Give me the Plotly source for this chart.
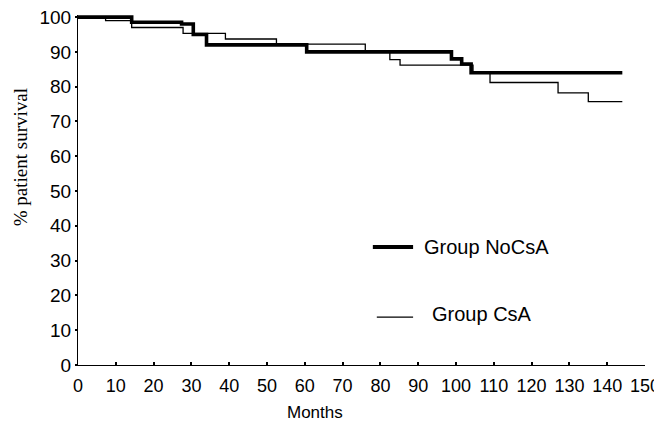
import plotly.graph_objects as go

# Kaplan-Meier style survival steps (months, % survival)
nocsa_months = [0, 14.2, 27.4, 30.5, 34, 60.5, 98.8, 101.5, 104, 144]
nocsa_surv = [100, 98.5, 98, 95, 92, 90, 88, 86.5, 84, 84]

csa_months = [0, 7.3, 14.2, 27.8, 39, 52.5, 76, 82.5, 85.2, 104.5, 109, 127, 135, 144]
csa_surv = [100, 99, 97, 95.3, 93.7, 92.2, 90, 87.8, 86.2, 83.8, 81.2, 78.2, 75.7, 75.7]

x_ticks = list(range(0, 151, 10))
y_ticks = list(range(0, 101, 10))

series_names = ["Group NoCsA", "Group CsA"]

fig = go.Figure()
fig.add_trace(go.Scatter(x=csa_months, y=csa_surv, mode="lines", line_shape="hv",
                         line=dict(color="black", width=1.3), name=series_names[1]))
fig.add_trace(go.Scatter(x=nocsa_months, y=nocsa_surv, mode="lines", line_shape="hv",
                         line=dict(color="black", width=3.6), name=series_names[0]))

tickfont = dict(family="Liberation Sans, Arial, sans-serif", size=18, color="black")

fig.update_layout(
    width=654, height=414,
    margin=dict(l=70, r=17, t=7, b=57),
    paper_bgcolor="white", plot_bgcolor="white",
    showlegend=False,
    xaxis=dict(range=[0, 150], tickvals=x_ticks, ticktext=[str(v) for v in x_ticks],
               showgrid=False, zeroline=False, showline=True, linecolor="black", linewidth=1.2,
               ticks="inside", ticklen=3, tickwidth=2, tickcolor="black",
               tickfont=tickfont, ticklabelstandoff=4, automargin=False,
               ticklabeloverflow="allow"),
    yaxis=dict(range=[0, 100.6], tickvals=y_ticks, ticktext=[str(v) for v in y_ticks],
               showgrid=False, zeroline=False, showline=True, linecolor="black", linewidth=1.2,
               ticks="outside", ticklen=2, tickwidth=2, tickcolor="black", automargin=False,
               ticklabeloverflow="allow",
               tickfont=dict(family="Liberation Sans, Arial, sans-serif", size=19, color="black")),
)

# Axis titles
fig.add_annotation(text="Months", xref="paper", yref="paper", x=0.418, y=-0.137,
                   showarrow=False, xanchor="center", yanchor="middle",
                   font=dict(family="Liberation Sans, Arial, sans-serif", size=17, color="black"))
fig.add_annotation(text="% patient survival", xref="paper", yref="paper", x=-0.102, y=0.594,
                   showarrow=False, textangle=-90, xanchor="center", yanchor="middle",
                   font=dict(family="Liberation Serif, Times New Roman, serif", size=19, color="black"))

# Legend drawn inside plot
fig.add_shape(type="line", xref="paper", yref="paper", x0=0.520, x1=0.591, y0=0.337, y1=0.337,
              line=dict(color="black", width=4))
fig.add_annotation(text=series_names[0], xref="paper", yref="paper", x=0.607, y=0.337,
                   showarrow=False, xanchor="left", yanchor="middle",
                   font=dict(family="Liberation Sans, Arial, sans-serif", size=20, color="black"))
fig.add_shape(type="line", xref="paper", yref="paper", x0=0.527, x1=0.591, y0=0.137, y1=0.137,
              line=dict(color="black", width=1.2))
fig.add_annotation(text=series_names[1], xref="paper", yref="paper", x=0.621, y=0.146,
                   showarrow=False, xanchor="left", yanchor="middle",
                   font=dict(family="Liberation Sans, Arial, sans-serif", size=20, color="black"))

fig.write_html("out.html")
